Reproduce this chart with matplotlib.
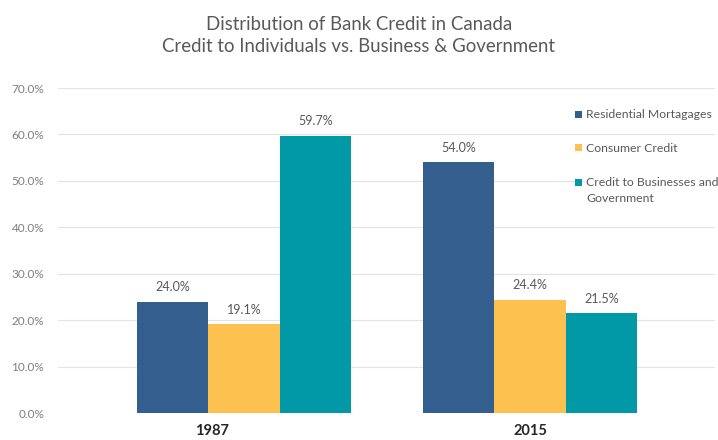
import matplotlib
matplotlib.use("Agg")
import matplotlib.pyplot as plt
from matplotlib.patches import Rectangle
import numpy as np

years = ["1987", "2015"]
series_names = ["Residential Mortagages", "Consumer Credit", "Credit to Businesses and\nGovernment"]
residential = [24.0, 54.0]
consumer = [19.1, 24.4]
business = [59.7, 21.5]
colors = ["#335E8D", "#FDC150", "#0099A5"]
yticks = [0, 10, 20, 30, 40, 50, 60, 70]

plt.rcParams['font.family'] = ['Lato', 'DejaVu Sans']

W, H = 718, 440
fig = plt.figure(figsize=(W/100, H/100), dpi=100)
ax = fig.add_axes([58/W, 1-413/H, (715-58)/W, (413-88)/H])

x = np.arange(len(years))
w = 0.25
values = [residential, consumer, business]
for i, (vals, c, name) in enumerate(zip(values, colors, series_names)):
    bars = ax.bar(x + (i-1)*w, vals, width=w, color=c, label=name, zorder=3)
    for b, v in zip(bars, vals):
        ax.annotate(f"{v:.1f}%", (b.get_x()+b.get_width()/2, v), xytext=(0, 6),
                    textcoords="offset points", ha="center", va="bottom",
                    fontsize=9, color="#595959")

ax.set_xlim(-0.65, 1.647)
ax.set_ylim(0, 70)
ax.set_yticks(yticks)
ax.set_yticklabels([f"{t:.1f}%" for t in yticks], fontsize=8.5, color="#7F7F7F")
ax.set_xticks(x)
ax.set_xticklabels([])
ax.tick_params(axis="both", length=0)
ax.tick_params(axis="y", pad=10)
# category labels (the 1987 label sits left of its group centre in the reference)
cat_offsets = [-23, 0]
for xi, lab, off in zip(x, years, cat_offsets):
    ax.annotate(lab, (xi, 0), xytext=(off, -13), textcoords="offset points",
                ha="center", va="center", fontsize=10.5, fontweight="bold",
                color="#262626", annotation_clip=False)
ax.yaxis.grid(True, color="#E3E3E3", linewidth=0.8, zorder=0)
ax.set_axisbelow(True)
for s in ax.spines.values():
    s.set_visible(False)

# legend (drawn manually so the marker aligns with the first label line)
leg_rows = [115, 148, 183]
for name, c, yr in zip(series_names, colors, leg_rows):
    fig.patches.append(Rectangle((575/W, 1-(yr+3.5)/H), 7/W, 7/H, transform=fig.transFigure,
                                 facecolor=c, edgecolor="none", zorder=5))
    for k, line in enumerate(name.split("\n")):
        fig.text(586/W, 1-(yr+k*15)/H, line, ha="left", va="center",
                 fontsize=8.8, color="#595959", zorder=6,
                 bbox=dict(facecolor="white", edgecolor="none", pad=0.5))

fig.text(0.5, 1-24/H, "Distribution of Bank Credit in Canada", ha="center", va="center",
         fontsize=13.4, color="#595959")
fig.text(0.5, 1-47/H, "Credit to Individuals vs. Business & Government", ha="center", va="center",
         fontsize=13.4, color="#595959")

fig.savefig("out.png", dpi=100, facecolor="white")
